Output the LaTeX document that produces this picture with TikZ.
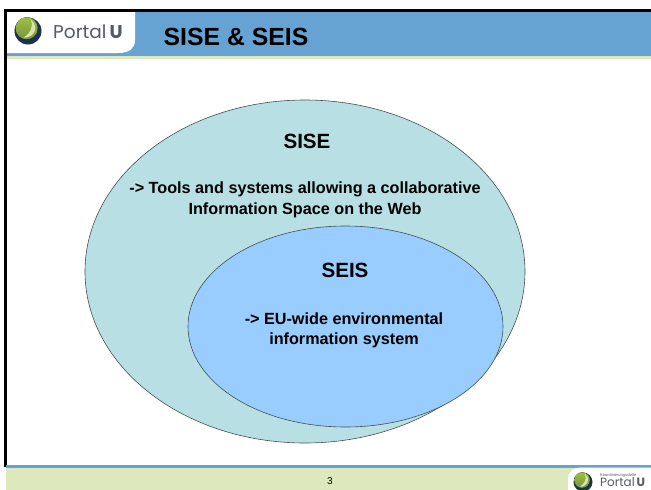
\documentclass[tikz,border=0pt]{standalone}
\usepackage{fontspec}
\usetikzlibrary{shapes.geometric}
\setmainfont{Liberation Sans}
\newfontfamily\logofont{Poppins}
\definecolor{headblue}{RGB}{102,163,210}
\definecolor{palegreen}{RGB}{221,232,189}
\definecolor{outerfill}{RGB}{184,224,228}
\definecolor{innerfill}{RGB}{153,204,255}
\definecolor{ringline}{RGB}{70,80,80}
\definecolor{logogray}{RGB}{85,90,100}
\definecolor{balllime}{RGB}{160,190,70}
\definecolor{ballgreen}{RGB}{120,150,60}
\definecolor{ballnavy}{RGB}{28,50,85}
\definecolor{ballshine}{RGB}{215,230,175}
\tikzset{x=1pt,y=-1pt,
    every node/.style={inner sep=0pt,align=center},
    ring/.style={draw=ringline,line width=.6pt},
    bigtitle/.style={font=\fontsize{24.8}{28}\selectfont\bfseries},
    ringtitle/.style={font=\fontsize{20.6}{24}\selectfont\bfseries},
    ringtext/.style={font=\fontsize{16.2}{20.5}\selectfont\bfseries},
    logotext/.style={text=logogray,anchor=west},
    }
% ball of the logo: centre, radius
\newcommand{\logoball}[3]{%
    \fill[ballnavy] (#1,#2) circle (#3);
    \fill[top color=balllime,bottom color=ballgreen] (#1-.1*#3,#2-.2*#3) circle (.82*#3);
    \fill[ballshine] (#1+.2*#3,#2-.85*#3) .. controls (#1+.85*#3,#2-.3*#3) and (#1+.5*#3,#2+.5*#3) .. (#1-.35*#3,#2+.5*#3) .. controls (#1+.15*#3,#2+.2*#3) and (#1+.45*#3,#2-.3*#3) .. (#1+.2*#3,#2-.85*#3) -- cycle;
}
\begin{document}
\begin{tikzpicture}
\useasboundingbox (0,0) rectangle (651,490);
\fill[white] (0,0) rectangle (651,490);
% header
\fill[headblue] (5,11) rectangle (651,56);
\fill[palegreen] (5,56) rectangle (651,59);
\fill[white] (6,12) -- (135,12) -- (135,40) .. controls (135,48) and (130,53) .. (118,53) -- (6,53) -- cycle;
\logoball{28}{31}{13.5}
\node[logotext,font=\fontsize{18.5}{20}\selectfont\logofont] (portal) at (53,32) {Portal\,\textbf{U}};
\node[bigtitle] (title) at (236,37) {SISE \& SEIS};
% frame
\fill[black] (4,9) rectangle (651,11.5);
\fill[black] (4,9) rectangle (6.5,467);
% footer
\fill[palegreen] (6,467) rectangle (651,490);
\fill[headblue] (6,465) rectangle (651,467.5);
\fill[white] (568,490) -- (568,480) .. controls (568,472) and (573,467.5) .. (580,467.5) -- (651,467.5) -- (651,490) -- cycle;
\logoball{583}{482}{9.5}
\node[logotext,font=\fontsize{4}{4}\selectfont] (koord) at (600,475.5) {Koordinierungsstelle};
\node[logotext,font=\fontsize{12}{12}\selectfont\logofont] (portalsmall) at (600,482.5) {Portal\,\textbf{U}};
\node[font=\fontsize{10}{12}\selectfont] (page) at (330,481) {3};
% the two rings
\node[ring,ellipse,fill=outerfill,minimum width=440,minimum height=343] (sise) at (305,271.5) {};
\node[ring,ellipse,fill=innerfill,minimum width=315,minimum height=201] (seis) at (345.5,326.5) {};
\node[ringtitle] (sisetitle) at (307,141) {SISE};
\node[ringtext] (sisetext) at (305,200) {-> Tools and systems allowing a collaborative\\Information Space on the Web};
\node[ringtitle] (seistitle) at (345,270) {SEIS};
\node[ringtext] (seistext) at (344,330.5) {-> EU-wide environmental\\information system};
\end{tikzpicture}
\end{document}
